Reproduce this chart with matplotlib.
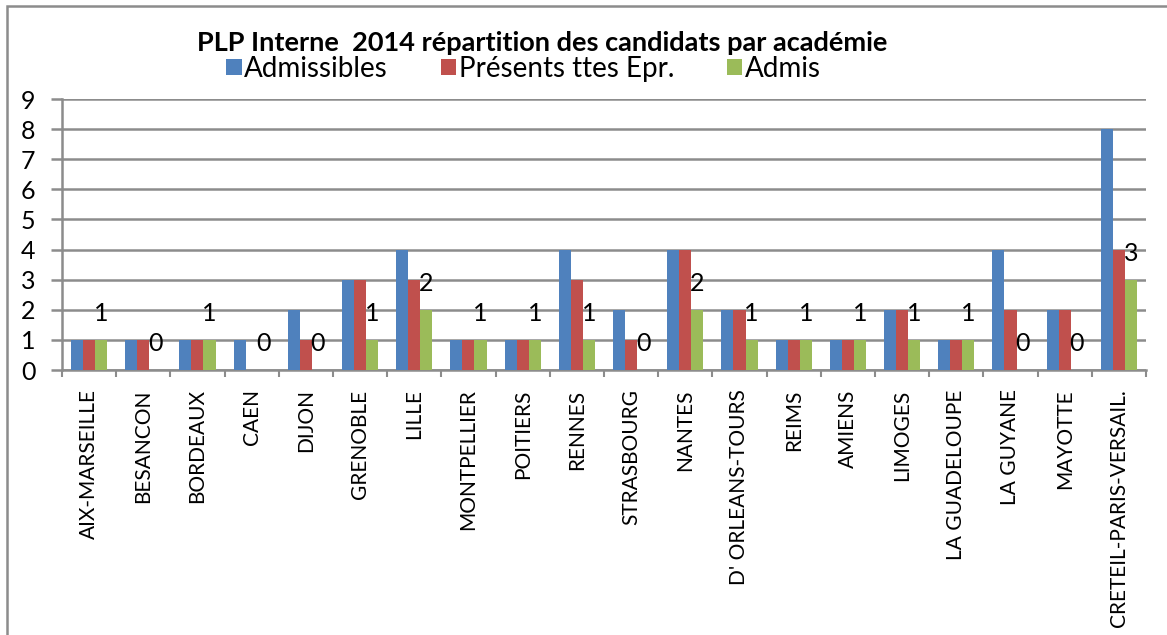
import matplotlib.pyplot as plt
from matplotlib.patches import Rectangle
import numpy as np

plt.rcParams['font.family'] = ['Lato', 'DejaVu Sans']

academies = ['AIX-MARSEILLE', 'BESANCON', 'BORDEAUX', 'CAEN', 'DIJON', 'GRENOBLE',
             'LILLE', 'MONTPELLIER', 'POITIERS', 'RENNES', 'STRASBOURG', 'NANTES',
             "D' ORLEANS-TOURS", 'REIMS', 'AMIENS', 'LIMOGES', 'LA GUADELOUPE',
             'LA GUYANE', 'MAYOTTE', 'CRETEIL-PARIS-VERSAIL.']
admissibles = [1, 1, 1, 1, 2, 3, 4, 1, 1, 4, 2, 4, 2, 1, 1, 2, 1, 4, 2, 8]
presents = [1, 1, 1, 0, 1, 3, 3, 1, 1, 3, 1, 4, 2, 1, 1, 2, 1, 2, 2, 4]
admis = [1, 0, 1, 0, 0, 1, 2, 1, 1, 1, 0, 2, 1, 1, 1, 1, 1, 0, 0, 3]

bleu = '#4F81BD'
rouge = '#C0504D'
vert = '#9BBB59'
gris = '#8C8C8C'

fig = plt.figure(figsize=(11.67, 6.35), dpi=100)
ax = fig.add_axes([0.0531, 0.4173, 0.9289, 0.4267])

x = np.arange(len(academies))
w = 0.222
ax.bar(x - w, admissibles, w, color=bleu, label='Admissibles', zorder=3)
ax.bar(x, presents, w, color=rouge, label='Présents ttes Epr.', zorder=3)
ax.bar(x + w, admis, w, color=vert, label='Admis', zorder=3)

# etiquettes des admis, au dessus de la barre verte
for i, v in enumerate(admis):
    ax.text(x[i] + w, v + 0.88, str(v), ha='center', va='center', fontsize=18, zorder=4)

ax.set_xlim(-0.5, len(academies) - 0.5)
ax.set_ylim(0, 9)
ax.set_yticks(range(10))
ax.yaxis.grid(True, color=gris, linewidth=1.8, zorder=0)
ax.set_axisbelow(True)

ax.set_xticks(x)
ax.set_xticklabels(academies, rotation=90, fontsize=15)
ax.set_xticks(np.arange(-0.5, len(academies)), minor=True)
ax.tick_params(axis='x', which='major', length=0, pad=14)
ax.tick_params(axis='x', which='minor', length=5, width=1.5, color=gris, direction='out')
ax.tick_params(axis='y', length=8, width=1.8, color=gris, labelsize=18, pad=11)

for s in ['top', 'right']:
    ax.spines[s].set_visible(False)
ax.spines['left'].set_color(gris)
ax.spines['left'].set_linewidth(1.8)
ax.spines['bottom'].set_color(gris)
ax.spines['bottom'].set_linewidth(1.8)

fig.text(0.465, 0.932, 'PLP Interne  2014 répartition des candidats par académie',
         ha='center', va='center', fontsize=19.5, fontweight='bold')
ax.legend(loc='center', bbox_to_anchor=(0.426, 1.112), ncol=3, frameon=False,
          fontsize=20, handlelength=0.55, handleheight=0.55, handletextpad=0.1,
          columnspacing=1.9, borderpad=0.2)

# cadre du graphique
fig.patches.append(Rectangle((7 / 1167, -0.1), 1.2, 1 - 6 / 635 + 0.1,
                             transform=fig.transFigure, fill=False,
                             edgecolor=gris, linewidth=1.8))

plt.savefig('out.png', dpi=100)
